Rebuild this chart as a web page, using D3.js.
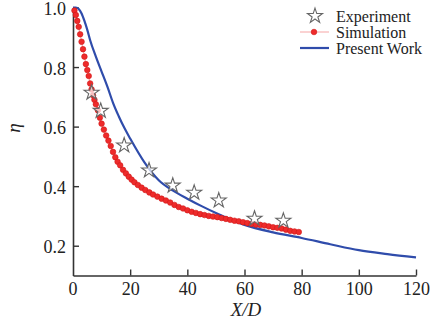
<!DOCTYPE html>
<head>
  <meta charset="utf-8">
  <script src="https://d3js.org/d3.v7.min.js"></script>
  <style>
    body { margin: 0; background: #fff; }
    text { font-family: "Liberation Serif", "Times New Roman", serif; fill: #222; }
  </style>
</head>
<body>
  <script>
    // experiment (stars)
    var expX = [6.5, 9.7, 17.9, 26.6, 34.9, 42.4, 51.0, 63.5, 73.6];
    var expY = [0.714, 0.653, 0.537, 0.453, 0.402, 0.378, 0.352, 0.291, 0.284];

    // simulation (red dots)
    var simX = [0.5, 1.0, 1.5, 2.0, 2.5, 3.0, 3.5, 4.0, 4.5, 5.0, 5.5, 6.0, 6.5, 7.0, 7.5, 8.0,
      8.7, 9.4, 10.0, 10.8, 11.6, 12.4, 13.2, 14.0, 14.8, 15.6, 16.5, 17.5, 18.5, 19.5, 20.5,
      21.5, 22.7, 24.0, 25.3, 26.7, 28.0, 29.5, 31.0, 32.5, 34.0, 35.5, 37.0, 38.5, 40.0, 41.5,
      43.0, 44.5, 46.0, 47.5, 49.0, 50.5, 52.0, 53.5, 55.0, 56.5, 58.0, 59.5, 61.0, 62.5, 64.0,
      65.5, 67.0, 68.5, 70.0, 71.5, 73.0, 74.5, 76.0, 77.5, 79.0];
    var simY = [0.99, 0.975, 0.955, 0.935, 0.91, 0.885, 0.86, 0.835, 0.81, 0.79, 0.77, 0.745, 0.725, 0.705, 0.69, 0.675,
      0.655, 0.63, 0.61, 0.59, 0.57, 0.553, 0.535, 0.515, 0.497, 0.482, 0.47, 0.455, 0.443, 0.432, 0.422,
      0.413, 0.404, 0.395, 0.387, 0.379, 0.372, 0.365, 0.358, 0.352, 0.345, 0.337, 0.33, 0.325, 0.319, 0.314,
      0.31, 0.306, 0.303, 0.300, 0.298, 0.296, 0.293, 0.29, 0.287, 0.284, 0.282, 0.279, 0.276, 0.273, 0.271,
      0.27, 0.268, 0.265, 0.262, 0.26, 0.258, 0.254, 0.25, 0.248, 0.246];

    // present work (blue line)
    var workX = [0, 1, 2, 3, 4, 5, 6, 8, 10, 12, 14, 16, 18, 20, 25, 30, 35, 40, 45, 50, 60, 70, 80, 90, 100, 110, 120];
    var workY = [1.0, 1.0, 0.995, 0.98, 0.955, 0.925, 0.89, 0.835, 0.785, 0.735, 0.68, 0.635, 0.595, 0.56, 0.48, 0.42,
      0.385, 0.358, 0.333, 0.31, 0.27, 0.245, 0.226, 0.205, 0.185, 0.172, 0.161];

    var xTicks = [20, 40, 60, 80, 100, 120];
    var yTicks = [0.2, 0.4, 0.6, 0.8, 1.0];
    var legendNames = ["Experiment", "Simulation", "Present Work"];

    var width = 438, height = 320;
    var x = d3.scaleLinear().domain([0, 120]).range([73, 416]);
    var y = d3.scaleLinear().domain([0.1, 1.0]).range([275.5, 7.5]);

    var svg = d3.select('body').append('svg')
      .attr('width', width)
      .attr('height', height);

    var blue = '#2f4cab';
    var red = '#ee2b2b';

    // axes
    var xAxis = svg.append('g')
      .attr('transform', 'translate(0,' + y(0.1) + ')')
      .call(d3.axisBottom(x).tickValues(xTicks).tickSizeInner(-6).tickSizeOuter(0).tickPadding(6));
    xAxis.selectAll('text').style('font-size', '18px').attr('dy', '0.75em');

    var yAxis = svg.append('g')
      .attr('transform', 'translate(' + x(0) + ',0)')
      .call(d3.axisLeft(y).tickValues(yTicks).tickFormat(d3.format('.1f')).tickSizeInner(-6).tickSizeOuter(0).tickPadding(7));
    yAxis.selectAll('text').style('font-size', '18px').attr('dy', '0.4em');

    svg.selectAll('.domain').attr('stroke', '#333').attr('stroke-width', 1.6);
    svg.selectAll('.tick line').attr('stroke', '#333').attr('stroke-width', 1.4);
    svg.selectAll('.tick text').attr('fill', '#222').style('font-family', '"Liberation Serif", serif');

    // x zero label
    svg.append('text')
      .attr('x', x(0)).attr('y', y(0.1) + 19)
      .attr('text-anchor', 'middle')
      .style('font-size', '18px')
      .text('0');

    // axis titles
    svg.append('text')
      .attr('transform', 'translate(20,128) rotate(-90)')
      .attr('text-anchor', 'middle')
      .style('font-size', '19px')
      .style('font-style', 'italic')
      .text('η');

    svg.append('text')
      .attr('x', 246).attr('y', 316)
      .attr('text-anchor', 'middle')
      .style('font-size', '19px')
      .style('font-style', 'italic')
      .text('X/D');

    // present work line
    var line = d3.line().curve(d3.curveMonotoneX);
    svg.append('path')
      .attr('d', line(workX.map(function(d, i) { return [x(d), y(workY[i])]; })))
      .attr('fill', 'none')
      .attr('stroke', blue)
      .attr('stroke-width', 2.2);

    // simulation
    var simPts = simX.map(function(d, i) { return [x(d), y(simY[i])]; });
    svg.append('path')
      .attr('d', d3.line()(simPts))
      .attr('fill', 'none')
      .attr('stroke', '#f6a5a5')
      .attr('stroke-width', 1);
    svg.append('g').selectAll('circle')
      .data(simPts)
      .enter().append('circle')
      .attr('cx', function(d) { return d[0]; })
      .attr('cy', function(d) { return d[1]; })
      .attr('r', 2.8)
      .attr('fill', red)
      .attr('stroke', '#d01818')
      .attr('stroke-width', 0.6);

    // experiment stars
    var star = d3.symbol().type(d3.symbolStar).size(70);
    svg.append('g').selectAll('path')
      .data(expX)
      .enter().append('path')
      .attr('d', star)
      .attr('transform', function(d, i) { return 'translate(' + x(d) + ',' + y(expY[i]) + ')'; })
      .attr('fill', '#fff')
      .attr('fill-opacity', 0.7)
      .attr('stroke', '#666')
      .attr('stroke-width', 1.1);

    // legend
    var lg = svg.append('g');
    lg.append('path')
      .attr('d', star)
      .attr('transform', 'translate(315,16)')
      .attr('fill', '#fff')
      .attr('stroke', '#666')
      .attr('stroke-width', 1.1);
    lg.append('line')
      .attr('x1', 300).attr('x2', 329).attr('y1', 32).attr('y2', 32)
      .attr('stroke', '#f6a5a5').attr('stroke-width', 1);
    lg.append('circle')
      .attr('cx', 314).attr('cy', 32).attr('r', 2.8)
      .attr('fill', red).attr('stroke', '#d01818').attr('stroke-width', 0.6);
    lg.append('line')
      .attr('x1', 300).attr('x2', 329).attr('y1', 48).attr('y2', 48)
      .attr('stroke', blue).attr('stroke-width', 2.2);
    lg.selectAll('text')
      .data(legendNames)
      .enter().append('text')
      .attr('x', 336)
      .attr('y', function(d, i) { return 16 + i * 16; })
      .attr('dy', '0.35em')
      .style('font-size', '16px')
      .text(function(d) { return d; });
  </script>
</body>
